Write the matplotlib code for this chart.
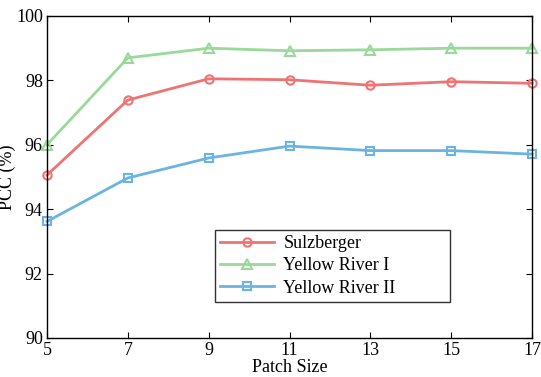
import numpy as np
import matplotlib
matplotlib.use("Agg")
import matplotlib.pyplot as plt

plt.rcParams['font.family'] = ['Liberation Serif', 'DejaVu Serif']
plt.rcParams['mathtext.fontset'] = 'stix'

patch_size = [5, 7, 9, 11, 13, 15, 17]
sulzberger = [95.06, 97.39, 98.05, 98.02, 97.85, 97.96, 97.91]
yellow_river_1 = [96.00, 98.70, 99.00, 98.92, 98.95, 99.00, 99.00]
yellow_river_2 = [93.62, 94.97, 95.59, 95.96, 95.82, 95.82, 95.71]

fig = plt.figure(figsize=(5.41, 3.77), dpi=100)
ax = fig.add_axes([47/541, 39/377, 485/541, 322/377])

ax.plot(patch_size, sulzberger, color='#EE7474', marker='o', ms=6, mfc='none',
        mew=1.5, lw=2, label='Sulzberger', clip_on=False)
ax.plot(patch_size, yellow_river_1, color='#99D999', marker='^', ms=7, mfc='none',
        mew=1.5, lw=2, label='Yellow River I', clip_on=False)
ax.plot(patch_size, yellow_river_2, color='#6CB4E0', marker='s', ms=6, mfc='none',
        mew=1.5, lw=2, label='Yellow River II', clip_on=False)

ax.set_xlim(5, 17)
ax.set_ylim(90, 100)
ax.set_xticks(patch_size)
ax.set_yticks(np.arange(90, 101, 2))
ax.tick_params(direction='in', top=True, right=True, labelsize=13, length=4, pad=3)
for s in ax.spines.values():
    s.set_linewidth(1.0)
ax.set_xlabel('Patch Size', fontsize=13, labelpad=0)
ax.set_ylabel('PCC (%)', fontsize=13, labelpad=0)

leg = ax.legend(loc='lower left', bbox_to_anchor=(0.346, 0.112, 0.485, 0.217),
                mode='expand', fontsize=13, frameon=True, fancybox=False,
                edgecolor='black', borderpad=0.3, labelspacing=0.28,
                handlelength=3.0, handletextpad=0.5, borderaxespad=0)
leg.get_frame().set_linewidth(1.0)

fig.savefig('out.png', dpi=100)
